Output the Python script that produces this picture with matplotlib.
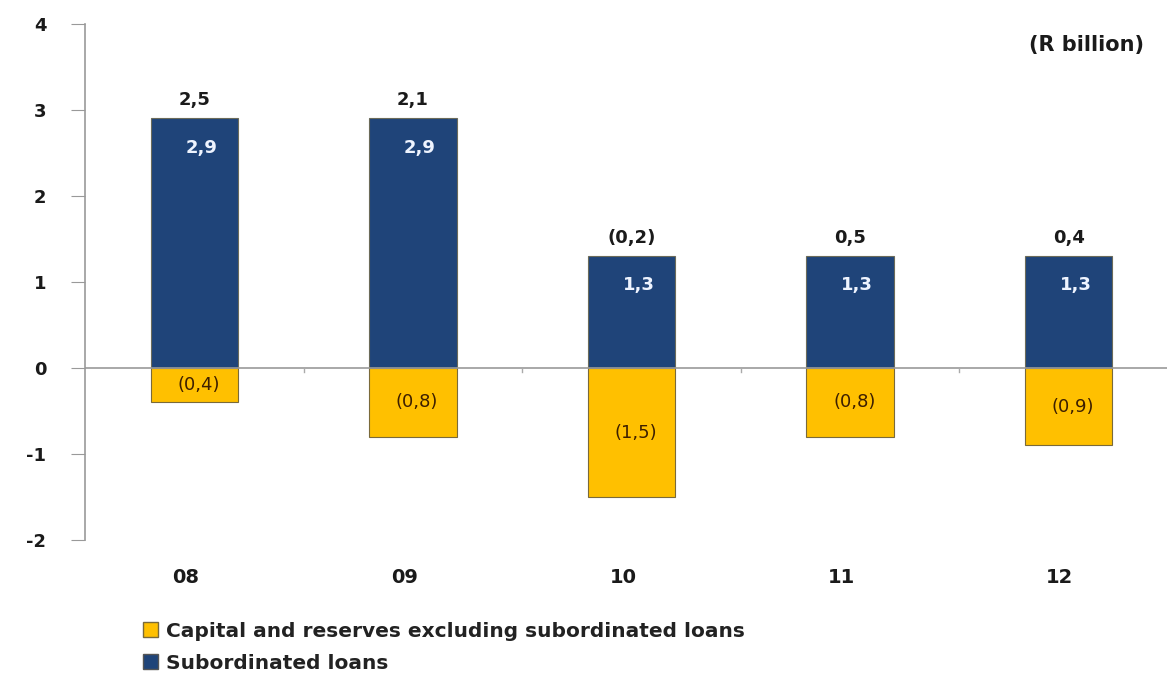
import matplotlib
matplotlib.use("Agg")
import matplotlib.pyplot as plt
from matplotlib.patches import Patch

# Data (R billion)
years = ["08", "09", "10", "11", "12"]
subordinated = [2.9, 2.9, 1.3, 1.3, 1.3]
capital_excl = [-0.4, -0.8, -1.5, -0.8, -0.9]

navy = "#1f4479"
gold = "#ffc000"


def fmt(v):
    s = f"{abs(v):.1f}".replace(".", ",")
    return f"({s})" if v < 0 else s


totals = [round(a + b, 1) for a, b in zip(subordinated, capital_excl)]

fig = plt.figure(figsize=(11.67, 6.76), dpi=100)
ax = fig.add_axes([0.073, 0.201, 0.927, 0.764])

x = list(range(len(years)))
ax.bar(x, subordinated, width=0.4, color=navy, edgecolor="#6b6b5a", linewidth=0.8, zorder=2)
ax.bar(x, capital_excl, width=0.4, color=gold, edgecolor="#7a6a3a", linewidth=0.8, zorder=2)

for xi, s, c, t in zip(x, subordinated, capital_excl, totals):
    ax.annotate(fmt(s), (xi, s), xytext=(5, -21), textcoords="offset points",
                ha="center", va="center", color="#eef4ff", fontsize=13, fontweight="bold")
    ax.annotate(fmt(c), (xi, c / 2), xytext=(3, 0), textcoords="offset points",
                ha="center", va="center", color="#3d1f00", fontsize=13)
    ax.annotate(fmt(t), (xi, s), xytext=(0, 13), textcoords="offset points",
                ha="center", va="center", color="#1a1a1a", fontsize=13, fontweight="bold")

ax.set_xlim(-0.5, 4.45)
ax.set_ylim(-2, 4)
ax.set_yticks([-2, -1, 0, 1, 2, 3, 4])
ax.set_yticklabels(["-2", "-1", "0", "1", "2", "3", "4"], fontsize=13, fontweight="bold", color="#1a1a1a")
ax.tick_params(axis="y", direction="out", length=10, color="#999999", pad=18)

# category labels below the plot, boundary ticks on the zero line
ax.set_xticks([])
for xi, lab in zip(x, years):
    ax.text(xi - 0.04, -2.43, lab, ha="center", va="center", fontsize=14,
            fontweight="bold", color="#1a1a1a")
ax.axhline(0, color="#999999", linewidth=1.2, zorder=3)
for b in [0.5, 1.5, 2.5, 3.5]:
    ax.plot([b, b], [0, -0.05], color="#aaaaaa", linewidth=1, zorder=3)

for side in ["top", "right", "bottom"]:
    ax.spines[side].set_visible(False)
ax.spines["left"].set_color("#999999")
ax.spines["left"].set_linewidth(1.2)

fig.text(0.98, 0.933, "(R billion)", ha="right", va="center", fontsize=15,
         fontweight="bold", color="#1a1a1a")

handles = [Patch(facecolor=gold, edgecolor="#7a6a3a"), Patch(facecolor=navy, edgecolor="#555555")]
labels = ["Capital and reserves excluding subordinated loans", "Subordinated loans"]
leg = fig.legend(handles, labels, loc="lower left", bbox_to_anchor=(0.107, -0.022), frameon=False,
                 handlelength=0.75, handleheight=0.75, handletextpad=0.4,
                 labelspacing=0.65, prop={"size": 14.5, "family": "DejaVu Sans", "weight": "bold"})
for txt in leg.get_texts():
    txt.set_color("#222222")

fig.savefig("out.png", dpi=100)
